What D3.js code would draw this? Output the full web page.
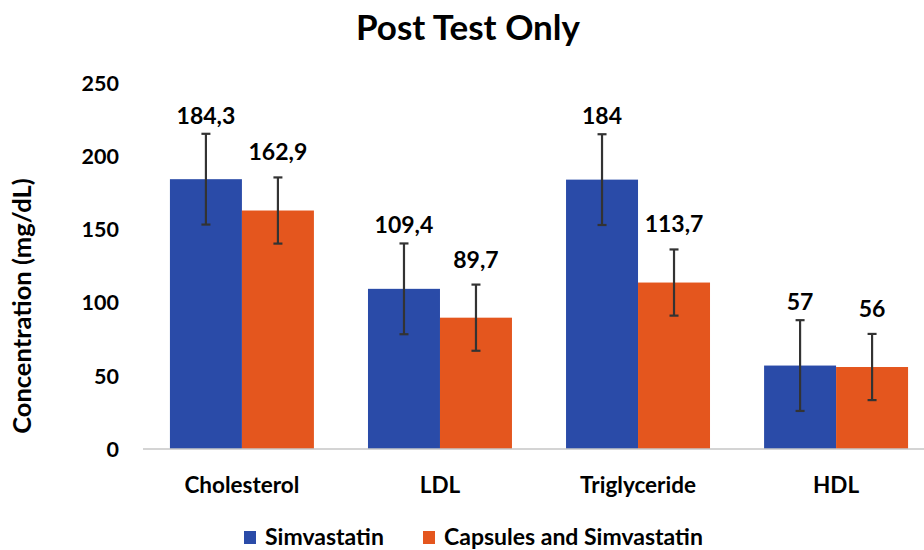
<!DOCTYPE html>
<html>
<head>
<meta charset="utf-8">
<script src="https://cdn.jsdelivr.net/npm/d3@7"></script>
<style>
  body { margin: 0; background: #fff; }
  text { font-family: Lato, "Open Sans", sans-serif; font-weight: 700; fill: #000; }
</style>
</head>
<body>
<div id="chart"></div>
<script>
// Chart Data
const categories = ["Cholesterol", "LDL", "Triglyceride", "HDL"];
const seriesNames = ["Simvastatin", "Capsules and Simvastatin"];
const simvastatin = [184.3, 109.4, 184, 57];
const capsules = [162.9, 89.7, 113.7, 56];
const simvastatinErr = [31, 31, 31, 31];
const capsulesErr = [22.6, 22.6, 22.6, 22.6];
const valueLabels = [["184,3", "109,4", "184", "57"], ["162,9", "89,7", "113,7", "56"]];
const yTicks = [0, 50, 100, 150, 200, 250];

const colors = ["#2a4ba8", "#e4561e"];
const labelGap = [10, 17];

// Dimensions
const w = 924, h = 550;
const margin = { left: 143, right: -11, top: 83, bottom: 101 };

const svg = d3.select("#chart").append("svg").attr("width", w).attr("height", h);

// Scales
const x = d3.scaleBand().domain(categories).range([margin.left, w - margin.right]).paddingInner(0.273).paddingOuter(0.136);
const xSub = d3.scaleBand().domain([0, 1]).range([0, x.bandwidth()]);
const y = d3.scaleLinear().domain([0, 250]).range([h - margin.bottom, margin.top]);

// Title
svg.append("text").attr("x", 468).attr("y", 40).attr("text-anchor", "middle").style("font-size", "35px").text("Post Test Only");

// Y Axis Labels
svg.selectAll("text.ytick").data(yTicks).enter().append("text").attr("class", "ytick")
  .attr("x", 119).attr("y", (d) => y(d)).attr("dy", "0.36em").attr("text-anchor", "end")
  .style("font-size", "21.5px").text((d) => d);

// Y Axis Title
svg.append("text").attr("transform", "translate(31," + 306 + ") rotate(-90)").attr("text-anchor", "middle")
  .style("font-size", "25.5px").text("Concentration (mg/dL)");

// Bars
const data = [simvastatin, capsules];
const errs = [simvastatinErr, capsulesErr];
data.forEach((series, s) => {
  const g = svg.append("g");
  g.selectAll("rect").data(series).enter().append("rect")
    .attr("x", (d, i) => x(categories[i]) + xSub(s))
    .attr("y", (d) => y(d))
    .attr("width", xSub.bandwidth())
    .attr("height", (d) => y(0) - y(d))
    .attr("fill", colors[s]);
});

// Baseline
svg.append("line").attr("x1", margin.left).attr("x2", w).attr("y1", y(0)).attr("y2", y(0))
  .attr("stroke", "#c6c6c6").attr("stroke-width", 1.5);

// Error Bars & Value Labels
data.forEach((series, s) => {
  series.forEach((d, i) => {
    const cx = x(categories[i]) + xSub(s) + xSub.bandwidth() / 2;
    const top = y(d + errs[s][i]), bot = y(d - errs[s][i]);
    const eb = svg.append("g").attr("stroke", "#333").attr("stroke-width", 2.2);
    eb.append("line").attr("x1", cx).attr("x2", cx).attr("y1", top).attr("y2", bot);
    eb.append("line").attr("x1", cx - 4.5).attr("x2", cx + 4.5).attr("y1", top).attr("y2", top);
    eb.append("line").attr("x1", cx - 4.5).attr("x2", cx + 4.5).attr("y1", bot).attr("y2", bot);
    svg.append("text").attr("x", cx).attr("y", top - labelGap[s]).attr("text-anchor", "middle")
      .style("font-size", "23px").text(valueLabels[s][i]);
  });
});

// Category Labels
svg.selectAll("text.cat").data(categories).enter().append("text").attr("class", "cat")
  .attr("x", (d) => x(d) + x.bandwidth() / 2).attr("y", 493).attr("text-anchor", "middle")
  .style("font-size", "22.5px").text((d) => d);

// Legend
const legendX = [244, 423];
seriesNames.forEach((name, s) => {
  svg.append("rect").attr("x", legendX[s]).attr("y", 531).attr("width", 12).attr("height", 13).attr("fill", colors[s]);
  svg.append("text").attr("x", legendX[s] + 21).attr("y", 545).style("font-size", "23px").text(name);
});
</script>
</body>
</html>
